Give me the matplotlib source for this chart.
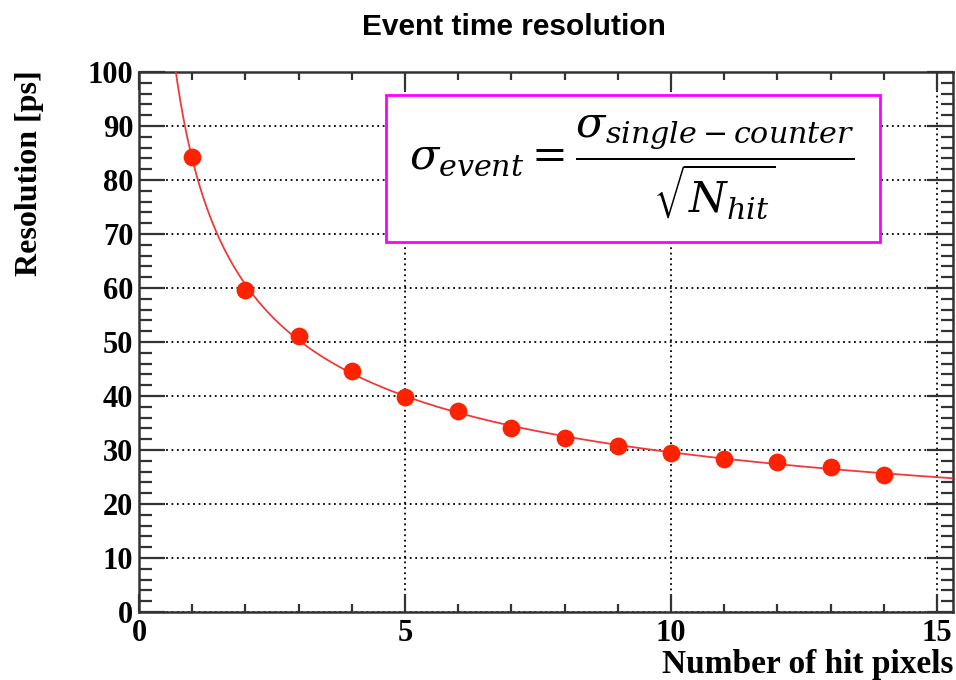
import matplotlib
matplotlib.use("Agg")
import matplotlib.pyplot as plt
import numpy as np
from matplotlib.ticker import MultipleLocator
from matplotlib.patches import Rectangle

# measured event time resolution vs number of hit pixels
n_hit = [1, 2, 3, 4, 5, 6, 7, 8, 9, 10, 11, 12, 13, 14]
resolution = [84.2, 59.6, 51.1, 44.6, 39.9, 37.2, 34.1, 32.3, 30.8, 29.5, 28.3, 27.7, 26.9, 25.4]

# fit p0/sqrt(N) + p1 to the points
xs = np.array(n_hit, dtype=float)
A = np.vstack([1.0 / np.sqrt(xs), np.ones_like(xs)]).T
p0, p1 = np.linalg.lstsq(A, np.array(resolution), rcond=None)[0]

plt.rcParams['mathtext.fontset'] = 'dejavuserif'

fig = plt.figure(figsize=(9.56, 6.8), dpi=100)
ax = fig.add_axes([0.1454, 0.1, 0.8515, 0.794])

xf = np.linspace(0.3, 15.3, 600)
ax.plot(xf, p0 / np.sqrt(xf) + p1, color='#f03a3a', lw=1.3, zorder=3)
ax.plot(n_hit, resolution, linestyle='None', marker='o', markersize=12.8,
        color='#ff2200', markeredgewidth=0, zorder=4)

ax.set_xlim(0, 15.3)
ax.set_ylim(0, 100)
ax.xaxis.set_major_locator(MultipleLocator(5))
ax.xaxis.set_minor_locator(MultipleLocator(1))
ax.yaxis.set_major_locator(MultipleLocator(10))
ax.yaxis.set_minor_locator(MultipleLocator(2))
ax.grid(True, which='major', color='black', linestyle=(0, (1, 2)), linewidth=1.3)

ax.tick_params(axis='both', which='both', direction='in', top=True, right=True,
               color='#333333', width=1.6)
ax.tick_params(axis='x', which='major', length=13, pad=5)
ax.tick_params(axis='x', which='minor', length=6)
ax.tick_params(axis='y', which='major', length=19, pad=4)
ax.tick_params(axis='y', which='minor', length=9)
for lab in ax.get_xticklabels() + ax.get_yticklabels():
    lab.set_fontfamily('Liberation Serif')
    lab.set_fontweight('bold')
    lab.set_fontsize(22)
for s in ax.spines.values():
    s.set_linewidth(1.8)
    s.set_color('#333333')

fig.text(0.9969, 0.011, 'Number of hit pixels', ha='right', va='baseline',
         fontfamily='Liberation Serif', fontweight='bold', fontsize=24)
fig.text(0.031, 0.896, 'Resolution [ps]', ha='center', va='top', rotation=90,
         fontfamily='Liberation Serif', fontweight='bold', fontsize=23)
fig.text(514 / 956, 1 - 27 / 680, 'Event time resolution', ha='center', va='center',
         fontfamily='Liberation Sans', fontweight='bold', fontsize=21.5)

# formula box
box = Rectangle((386 / 956, 1 - 242 / 680), (880 - 386) / 956, (242 - 95) / 680,
                transform=fig.transFigure, fill=True, facecolor='white',
                edgecolor='#ff00ff', linewidth=2, zorder=5)
fig.patches.append(box)
fig.text(632 / 956, 1 - 168 / 680,
         r'$\sigma_{event}=\dfrac{\sigma_{single-counter}}{\sqrt{N_{hit}}}$',
         ha='center', va='center', fontsize=31, zorder=6)

fig.savefig('out.png', dpi=100)
